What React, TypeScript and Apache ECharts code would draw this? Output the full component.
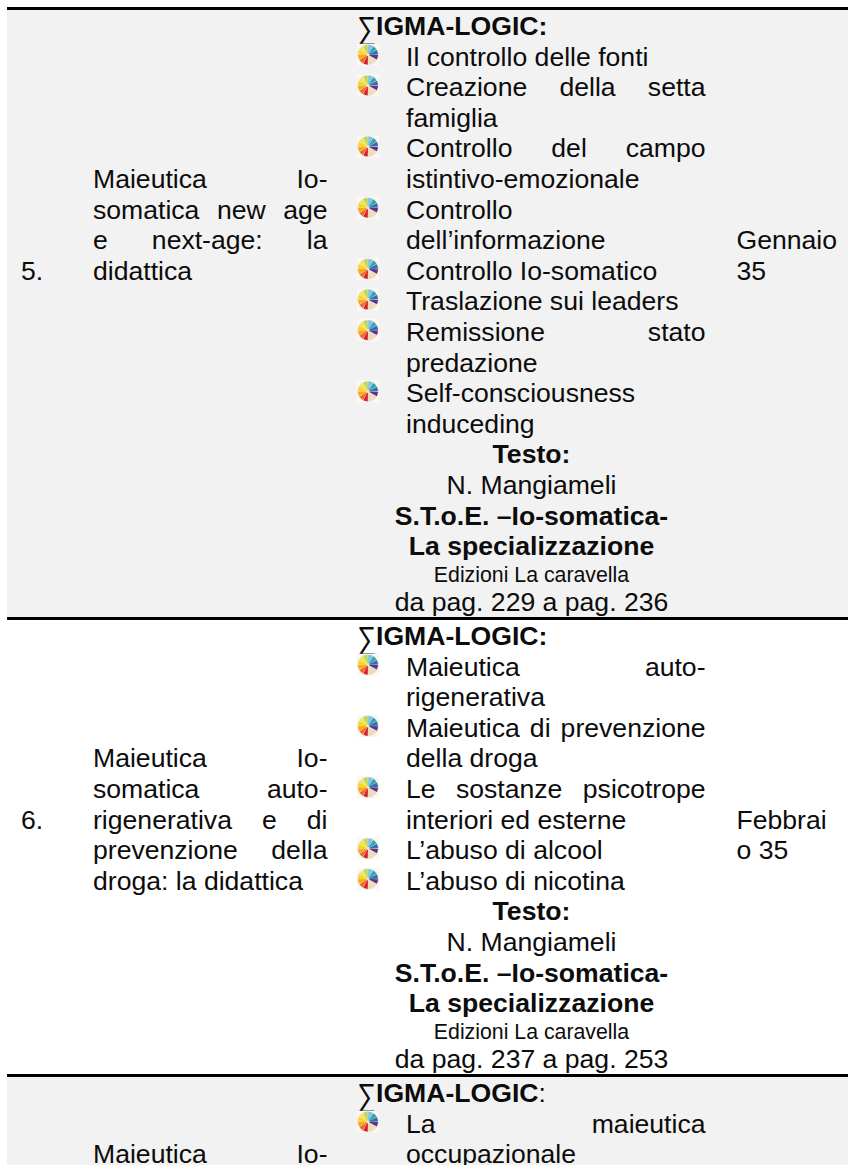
import React, { useEffect, useRef } from "react";
import * as echarts from "echarts";

const row5Number = "5.";
const row5Title = ["Maieutica Io-", "somatica new age", "e next-age: la", "didattica"];
const row5Items = [
  ["Il controllo delle fonti"],
  ["Creazione della setta", "famiglia"],
  ["Controllo del campo", "istintivo-emozionale"],
  ["Controllo", "dell’informazione"],
  ["Controllo Io-somatico"],
  ["Traslazione sui leaders"],
  ["Remissione stato", "predazione"],
  ["Self-consciousness", "induceding"],
];
const row5Date = ["Gennaio", "35"];
const row5Pages = "da pag. 229 a pag. 236";

const row6Number = "6.";
const row6Title = ["Maieutica Io-", "somatica auto-", "rigenerativa e di", "prevenzione della", "droga: la didattica"];
const row6Items = [
  ["Maieutica auto-", "rigenerativa"],
  ["Maieutica di prevenzione", "della droga"],
  ["Le sostanze psicotrope", "interiori ed esterne"],
  ["L’abuso di alcool"],
  ["L’abuso di nicotina"],
];
const row6Date = ["Febbrai", "o 35"];
const row6Pages = "da pag. 237 a pag. 253";

const row7Title = ["Maieutica Io-"];
const row7Items = [["La maieutica", "occupazionale"]];

const sigmaGlyph = "∑";
const sigmaHead = "IGMA-LOGIC:";
const sigmaHeadLast = "IGMA-LOGIC";
const bookLines = ["Testo:", "N. Mangiameli", "S.T.o.E. –Io-somatica-", "La specializzazione", "Edizioni La caravella"];
const wheelColours = ["#7fc4e0", "#2aa3bd", "#2f6fb2", "#5a3590", "#efdcc0", "#f0d8bc", "#d21f2c", "#ee6a2a", "#f7a81e", "#f6d820", "#f2e65a", "#b9d66a"];

const FONT = "'Liberation Sans', Arial, sans-serif";
const SIZE = 26.6;
const SMALL = 21.3;
const PITCH = 30.6;
const INK = "#0c0c0c";

const ctx = document.createElement("canvas").getContext("2d")!;
function measure(t: string, size = SIZE) {
  ctx.font = `${size}px 'Liberation Sans', Arial, sans-serif`;
  return ctx.measureText(t).width;
}

function txt(text: string, x: number, y: number, o: any = {}) {
  const size = o.size ?? SIZE;
  return {
    type: "text",
    x,
    y,
    scaleY: o.scaleY ?? 1,
    silent: true,
    style: {
      text,
      fontFamily: FONT,
      fontSize: size,
      fontWeight: o.bold ? "bold" : "normal",
      fill: INK,
      align: o.align ?? "left",
      verticalAlign: "middle",
      textAlign: o.align ?? "left",
      textVerticalAlign: "middle",
    },
  };
}

function justified(line: string, x0: number, x1: number, y: number) {
  const words = line.split(" ");
  if (words.length === 1) return [txt(line, x0, y)];
  const total = words.reduce((s, w) => s + measure(w), 0);
  const gap = (x1 - x0 - total) / (words.length - 1);
  let x = x0;
  return words.map((w) => {
    const el = txt(w, x, y);
    x += measure(w) + gap;
    return el;
  });
}

function block(lines: string[], x0: number, x1: number, y: number) {
  const out: any[] = [];
  lines.forEach((l, i) => {
    const yy = y + i * PITCH;
    if (i < lines.length - 1) out.push(...justified(l, x0, x1, yy));
    else out.push(txt(l, x0, yy));
  });
  return out;
}

function wheel(cx: number, cy: number) {
  const n = wheelColours.length;
  const step = (Math.PI * 2) / n;
  const children: any[] = [
    { type: "rect", shape: { x: -11, y: -11, width: 22, height: 22 }, style: { fill: "#fbf8f4" }, silent: true },
    { type: "ellipse", shape: { cx: 0, cy: 0, rx: 10.8, ry: 10.4 }, style: { fill: "#f3e4cc" }, silent: true },
  ];
  wheelColours.forEach((c, i) => {
    children.push({
      type: "sector",
      silent: true,
      shape: {
        cx: 0,
        cy: 0,
        r0: 1.5,
        r: 10,
        startAngle: -Math.PI / 2 + i * step + 0.03,
        endAngle: -Math.PI / 2 + (i + 1) * step - 0.03,
      },
      style: { fill: c },
    });
  });
  return { type: "group", x: cx, y: cy, children };
}

function list(items: string[][], y0: number) {
  const out: any[] = [];
  let idx = 0;
  items.forEach((item) => {
    out.push(wheel(368, y0 + idx * PITCH - 1.8));
    out.push(...block(item, 406, 705.5, y0 + idx * PITCH));
    idx += item.length;
  });
  return out;
}

function sigma(y: number, boldColon = true) {
  const out: any[] = [txt(sigmaGlyph, 357, y + 2, { scaleY: 1.2 })];
  if (boldColon) out.push(txt(sigmaHead, 376, y, { bold: true }));
  else {
    out.push(txt(sigmaHeadLast, 376, y, { bold: true }));
    ctx.font = `bold ${SIZE}px 'Liberation Sans', Arial, sans-serif`;
    out.push(txt(":", 376 + ctx.measureText(sigmaHeadLast).width, y));
  }
  return out;
}

function book(y: number, pages: string) {
  const cx = 531.5;
  return [
    txt(bookLines[0], cx, y, { bold: true, align: "center" }),
    txt(bookLines[1], cx, y + PITCH, { align: "center" }),
    txt(bookLines[2], cx, y + 2 * PITCH, { bold: true, align: "center" }),
    txt(bookLines[3], cx, y + 3 * PITCH, { bold: true, align: "center" }),
    txt(bookLines[4], cx, y + 3 * PITCH + 28.5, { align: "center", size: SMALL }),
    txt(pages, cx, y + 3 * PITCH + 55.5, { align: "center" }),
  ];
}

function rule(y: number) {
  return { type: "rect", silent: true, shape: { x: 7, y, width: 841, height: 3 }, style: { fill: "#000000" } };
}
function band(y: number, h: number) {
  return { type: "rect", silent: true, shape: { x: 7, y, width: 841, height: h }, style: { fill: "#f2f2f2" } };
}

function buildElements() {
  const r5 = 26;
  const r6 = 636;
  const r7 = 1093;
  return [
    band(10, 607),
    band(1077, 88),
    rule(7),
    rule(617),
    rule(1074),
    // row 5
    txt(row5Number, 21, r5 + 8 * PITCH),
    ...block(row5Title, 93, 327.5, r5 + 5 * PITCH),
    ...sigma(r5),
    ...list(row5Items, r5 + PITCH),
    ...book(r5 + 14 * PITCH, row5Pages),
    ...row5Date.map((d, i) => txt(d, 736.5, r5 + (7 + i) * PITCH)),
    // row 6
    txt(row6Number, 21, r6 + 6 * PITCH),
    ...block(row6Title, 93, 327.5, r6 + 4 * PITCH),
    ...sigma(r6),
    ...list(row6Items, r6 + PITCH),
    ...book(r6 + 9 * PITCH, row6Pages),
    ...row6Date.map((d, i) => txt(d, 736.5, r6 + (6 + i) * PITCH)),
    // row 7
    ...sigma(r7, false),
    ...list(row7Items, r7 + PITCH),
    ...justified(row7Title[0], 93, 327.5, r7 + 2 * PITCH),
  ];
}

export default function App() {
  const ref = useRef<HTMLDivElement>(null);
  useEffect(() => {
    document.body.style.margin = "0";
    const chart = echarts.init(ref.current!, undefined, { renderer: "svg" });
    chart.setOption({
      animation: false,
      backgroundColor: "#ffffff",
      graphic: { elements: buildElements() },
    });
    return () => chart.dispose();
  }, []);
  return <div ref={ref} style={{ width: 848, height: 1165 }} />;
}
